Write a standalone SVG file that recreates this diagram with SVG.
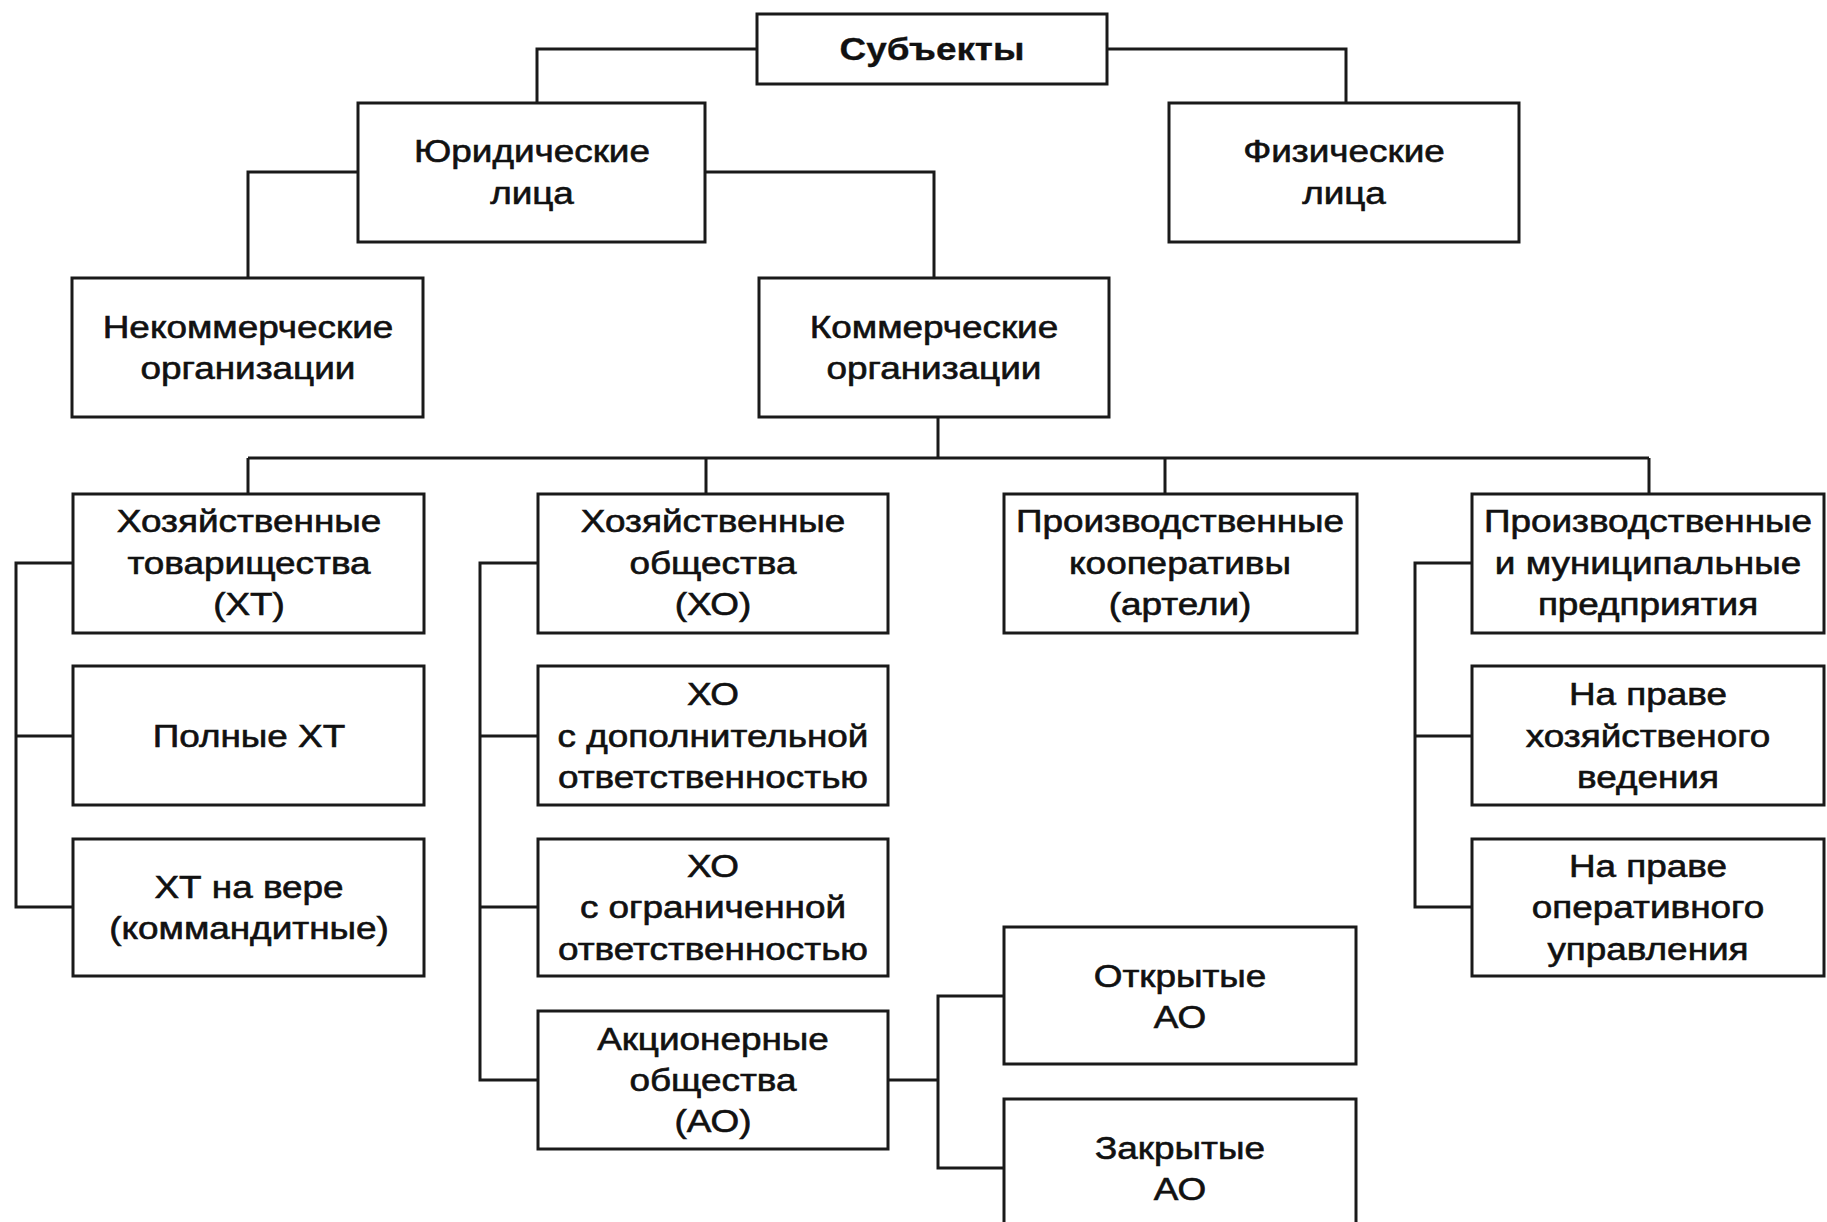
<svg xmlns="http://www.w3.org/2000/svg" width="1827" height="1222" viewBox="0 0 1827 1222">
<style>
.box{fill:#fff;stroke:#1a1a1a;stroke-width:3}
.ln{fill:none;stroke:#1a1a1a;stroke-width:3}
text{font-family:"Liberation Sans",Arial,sans-serif;font-size:31px;fill:#111;stroke:#111;stroke-width:0.6;text-anchor:middle}
.b{font-weight:bold;stroke-width:0.3}
</style>
<rect width="1827" height="1222" fill="#fff"/>
<g id="connectors" class="ln">
<path d="M757,49 H537 V103"/>
<path d="M1107,49 H1346 V103"/>
<path d="M358,172 H248 V278"/>
<path d="M705,172 H934 V278"/>
<path d="M938,417 V458 M248,458 H1649 M248,458 V494 M706,458 V494 M1165,458 V494 M1649,458 V494"/>
<path d="M73,563 H16 V907 H73 M16,736 H73"/>
<path d="M538,563 H480 V1080 H538 M480,736 H538 M480,907 H538"/>
<path d="M1472,563 H1415 V907 H1472 M1415,736 H1472"/>
<path d="M888,1080 H938 M1004,996 H938 V1168 H1004"/>
</g>
<g id="subj"><rect class="box" x="757" y="14" width="350" height="70"/><text class="b" transform="translate(932,60) scale(1.19,1)">Субъекты</text></g>
<g id="jur"><rect class="box" x="358" y="103" width="347" height="139"/><text transform="translate(532,162) scale(1.19,1)">Юридические</text><text transform="translate(532,204) scale(1.19,1)">лица</text></g>
<g id="fiz"><rect class="box" x="1169" y="103" width="350" height="139"/><text transform="translate(1344,162) scale(1.19,1)">Физические</text><text transform="translate(1344,204) scale(1.19,1)">лица</text></g>
<g id="nekom"><rect class="box" x="72" y="278" width="351" height="139"/><text transform="translate(248,338) scale(1.19,1)">Некоммерческие</text><text transform="translate(248,379) scale(1.19,1)">организации</text></g>
<g id="kom"><rect class="box" x="759" y="278" width="350" height="139"/><text transform="translate(934,338) scale(1.19,1)">Коммерческие</text><text transform="translate(934,379) scale(1.19,1)">организации</text></g>
<g id="ht"><rect class="box" x="73" y="494" width="351" height="139"/><text transform="translate(249,532) scale(1.19,1)">Хозяйственные</text><text transform="translate(249,574) scale(1.19,1)">товарищества</text><text transform="translate(249,615) scale(1.19,1)">(ХТ)</text></g>
<g id="ho"><rect class="box" x="538" y="494" width="350" height="139"/><text transform="translate(713,532) scale(1.19,1)">Хозяйственные</text><text transform="translate(713,574) scale(1.19,1)">общества</text><text transform="translate(713,615) scale(1.19,1)">(ХО)</text></g>
<g id="pk"><rect class="box" x="1004" y="494" width="353" height="139"/><text transform="translate(1180,532) scale(1.19,1)">Производственные</text><text transform="translate(1180,574) scale(1.19,1)">кооперативы</text><text transform="translate(1180,615) scale(1.19,1)">(артели)</text></g>
<g id="pm"><rect class="box" x="1472" y="494" width="352" height="139"/><text transform="translate(1648,532) scale(1.19,1)">Производственные</text><text transform="translate(1648,574) scale(1.19,1)">и муниципальные</text><text transform="translate(1648,615) scale(1.19,1)">предприятия</text></g>
<g id="pht"><rect class="box" x="73" y="666" width="351" height="139"/><text transform="translate(249,747) scale(1.19,1)">Полные ХТ</text></g>
<g id="hod"><rect class="box" x="538" y="666" width="350" height="139"/><text transform="translate(713,705) scale(1.19,1)">ХО</text><text transform="translate(713,747) scale(1.19,1)">с дополнительной</text><text transform="translate(713,788) scale(1.19,1)">ответственностью</text></g>
<g id="pv1"><rect class="box" x="1472" y="666" width="352" height="139"/><text transform="translate(1648,705) scale(1.19,1)">На праве</text><text transform="translate(1648,747) scale(1.19,1)">хозяйственого</text><text transform="translate(1648,788) scale(1.19,1)">ведения</text></g>
<g id="htv"><rect class="box" x="73" y="839" width="351" height="137"/><text transform="translate(249,898) scale(1.19,1)">ХТ на вере</text><text transform="translate(249,939) scale(1.19,1)">(коммандитные)</text></g>
<g id="hoo"><rect class="box" x="538" y="839" width="350" height="137"/><text transform="translate(713,877) scale(1.19,1)">ХО</text><text transform="translate(713,918) scale(1.19,1)">с ограниченной</text><text transform="translate(713,960) scale(1.19,1)">ответственностью</text></g>
<g id="pv2"><rect class="box" x="1472" y="839" width="352" height="137"/><text transform="translate(1648,877) scale(1.19,1)">На праве</text><text transform="translate(1648,918) scale(1.19,1)">оперативного</text><text transform="translate(1648,960) scale(1.19,1)">управления</text></g>
<g id="ao"><rect class="box" x="538" y="1011" width="350" height="138"/><text transform="translate(713,1050) scale(1.19,1)">Акционерные</text><text transform="translate(713,1091) scale(1.19,1)">общества</text><text transform="translate(713,1132) scale(1.19,1)">(АО)</text></g>
<g id="oao"><rect class="box" x="1004" y="927" width="352" height="137"/><text transform="translate(1180,987) scale(1.19,1)">Открытые</text><text transform="translate(1180,1028) scale(1.19,1)">АО</text></g>
<g id="zao"><rect class="box" x="1004" y="1099" width="352" height="140"/><text transform="translate(1180,1159) scale(1.19,1)">Закрытые</text><text transform="translate(1180,1200) scale(1.19,1)">АО</text></g>
</svg>
